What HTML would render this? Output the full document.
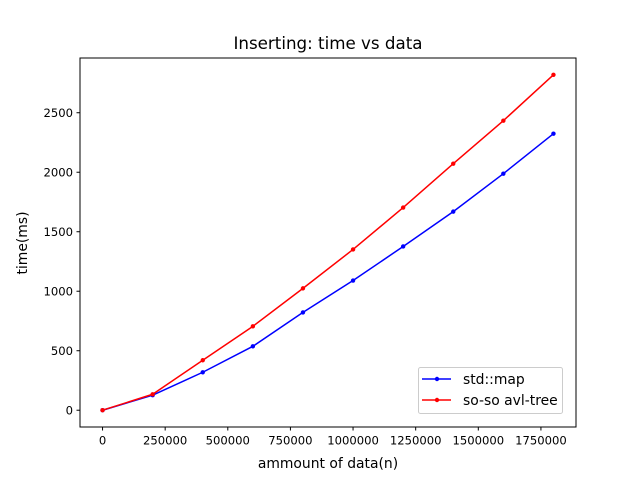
<!DOCTYPE html>
<html><head><meta charset="utf-8"><style>body{margin:0;background:#fff}svg{display:block;font-family:"DejaVu Sans","Liberation Sans",sans-serif}</style></head>
<body>
<svg id="c" width="640" height="480" viewBox="0 0 640 480"></svg>
<script>
const xValues=[0,200000,400000,600000,800000,1000000,1200000,1400000,1600000,1800000];
const mapTimes=[0,126,319,537,822,1090,1376,1669,1988,2324];
const avlTimes=[0,134,420,705,1024,1351,1703,2072,2433,2819];
const xTicks=[0,250000,500000,750000,1000000,1250000,1500000,1750000];
const yTicks=[0,500,1000,1500,2000,2500];
const L=80,R=576,T=58,B=427;
const xmin=-90000,xmax=1890000,ymin=-141,ymax=2960;
const X=v=>L+(v-xmin)/(xmax-xmin)*(R-L);
const Y=v=>B-(v-ymin)/(ymax-ymin)*(B-T);
const svg=document.getElementById('c');const NS='http://www.w3.org/2000/svg';
function mk(t,a,p){const e=document.createElementNS(NS,t);for(const k in a)e.setAttribute(k,a[k]);(p||svg).appendChild(e);return e;}
let r=mk('rect',{x:L,y:T,width:R-L,height:B-T,fill:'none',stroke:'#000','stroke-width':1});


xTicks.forEach(v=>{const x=X(v);mk('line',{x1:x,x2:x,y1:B,y2:B+3.5,stroke:'#000'});
let t=mk('text',{x:x,y:B+17.5,'text-anchor':'middle','font-size':11.6});t.textContent=v;

});
yTicks.forEach(v=>{const y=Y(v);mk('line',{x1:L,x2:L-3.5,y1:y,y2:y,stroke:'#000'});
let t=mk('text',{x:L-7,y:y+4.3,'text-anchor':'end','font-size':11.6});t.textContent=v;

});
let tt=mk('text',{x:328,y:49,'text-anchor':'middle','font-size':16.7});tt.textContent='Inserting: time vs data';


let xl=mk('text',{x:328,y:468,'text-anchor':'middle','font-size':13.9});xl.textContent='ammount of data(n)';


let yl=mk('text',{x:0,y:0,'text-anchor':'middle','font-size':13.9,transform:'translate(27,243) rotate(-90)'});yl.textContent='time(ms)';


function series(vals,col,name){const g=mk('g',{});


mk('polyline',{points:vals.map((v,i)=>X(xValues[i])+','+Y(v)).join(' '),fill:'none',stroke:col,'stroke-width':1.5},g);
vals.forEach((v,i)=>{const c=mk('circle',{cx:X(xValues[i]),cy:Y(v),r:2.2,fill:col},g);

});}
series(mapTimes,'#0000ff','series-std-map');
series(avlTimes,'#ff0000','series-avl-tree');
const lg=mk('g',{});


mk('rect',{x:418.5,y:367.5,width:144,height:46,rx:2,fill:'#fff',stroke:'#ccc'},lg);
[['std::map','#0000ff',379],['so-so avl-tree','#ff0000',400]].forEach(([n,c,y])=>{
mk('line',{x1:422,x2:451,y1:y,y2:y,stroke:c,'stroke-width':1.5},lg);
mk('circle',{cx:437,cy:y,r:2.2,fill:c},lg);
let t=mk('text',{x:463,y:y+5,'font-size':13.9},lg);t.textContent=n;

});
</script>
</body></html>
